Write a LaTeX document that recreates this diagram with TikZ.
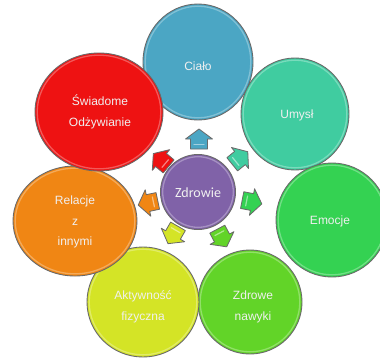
\documentclass[tikz,border=0pt]{standalone}
\usepackage{fontspec}
\setmainfont{Liberation Sans}
\newfontfamily\calfont{Carlito}
\usetikzlibrary{shapes.geometric}
\definecolor{cCialo}{RGB}{75,166,196}
\definecolor{cUmysl}{RGB}{64,204,160}
\definecolor{cEmocje}{RGB}{52,210,82}
\definecolor{cNawyki}{RGB}{98,212,40}
\definecolor{cAktyw}{RGB}{212,228,38}
\definecolor{cRelacje}{RGB}{240,134,20}
\definecolor{cSwiad}{RGB}{238,18,18}
\definecolor{cZdrowie}{RGB}{128,98,168}
\definecolor{rimgray}{RGB}{105,105,105}
\tikzset{
  bubble/.style={ellipse, draw=rimgray, line width=0.9pt, inner sep=0pt},
  rim/.style={line width=1.3pt, opacity=0.55},
  lbl/.style={text=white!94!black, font=\fontsize{12}{20.5}\selectfont, align=center},
  barrowstyle/.style={draw=rimgray, line width=0.8pt, line join=round},
}
\newcommand{\bubblerim}[4]{%
  \draw[rim, draw=#4!45!white] (#1) ellipse [x radius=#2-2.2, y radius=#3-2.2];}
\newcommand{\blockarrow}[4]{%
  \begin{scope}[shift={(#1,#2)}, rotate=#3]
    \filldraw[barrowstyle, fill=#4] (-10,-8.5) -- (0,-8.5) -- (0,-13.5) -- (10,0) -- (0,13.5) -- (0,8.5) -- (-10,8.5) -- cycle;
    \draw[line width=1.2pt, draw=#4!40!white, line cap=round, opacity=0.8] (-5.5,-5) -- (-5.5,5);
  \end{scope}}
\begin{document}
\begin{tikzpicture}[x=1pt, y=-1pt]
\useasboundingbox (0,0) rectangle (380,362);
\clip (0,0) rectangle (380,362);
\fill[white] (0,0) rectangle (380,362);
% outer bubbles (back to front)
\node[bubble, fill=cCialo, minimum width=110pt, minimum height=116pt] (cialo) at (198,62) {};
\bubblerim{cialo.center}{55}{58}{cCialo}
\node[lbl] (tcialo) at (198,66) {Ciało};
\node[bubble, fill=cUmysl, minimum width=108pt, minimum height=112pt] (umysl) at (295,114) {};
\bubblerim{umysl.center}{54}{56}{cUmysl}
\node[lbl] (tumysl) at (297,115) {Umysł};
\node[bubble, fill=cEmocje, minimum width=112pt, minimum height=114pt] (emocje) at (332,220) {};
\bubblerim{emocje.center}{56}{57}{cEmocje}
\node[lbl] (temocje) at (330,221) {Emocje};
\node[bubble, fill=cNawyki, minimum width=104pt, minimum height=104pt] (nawyki) at (250,302) {};
\bubblerim{nawyki.center}{52}{52}{cNawyki}
\node[lbl] (tnawyki) at (253,307) {Zdrowe\\nawyki};
\node[bubble, fill=cAktyw, minimum width=112pt, minimum height=110pt] (aktyw) at (143,302) {};
\bubblerim{aktyw.center}{56}{55}{cAktyw}
\node[lbl] (taktyw) at (143,307) {Aktywność\\fizyczna};
\node[bubble, fill=cRelacje, minimum width=124pt, minimum height=110pt] (relacje) at (75,221) {};
\bubblerim{relacje.center}{62}{55}{cRelacje}
\node[lbl] (trelacje) at (75,222) {Relacje\\z\\innymi};
\node[bubble, fill=cSwiad, minimum width=128pt, minimum height=118pt] (swiad) at (99,112) {};
\bubblerim{swiad.center}{64}{59}{cSwiad}
\node[lbl] (tswiad) at (100,112) {Świadome\\Odżywianie};
% centre
\node[bubble, fill=cZdrowie, minimum width=75pt, minimum height=75pt] (zdrowie) at (198,192) {};
\bubblerim{zdrowie.center}{37.5}{37.5}{cZdrowie}
\node[text=white!94!black, font=\calfont\fontsize{14}{16}\selectfont] (tzdrowie) at (198,193) {Zdrowie};
% arrows
\blockarrow{199}{139}{90}{cCialo}
\blockarrow{240}{158}{39}{cUmysl}
\blockarrow{252}{202}{-11}{cEmocje}
\blockarrow{222}{238}{-62}{cNawyki}
\blockarrow{173}{235}{-120}{cAktyw}
\blockarrow{148}{203}{192}{cRelacje}
\blockarrow{161}{160}{140}{cSwiad}
\end{tikzpicture}
\end{document}
